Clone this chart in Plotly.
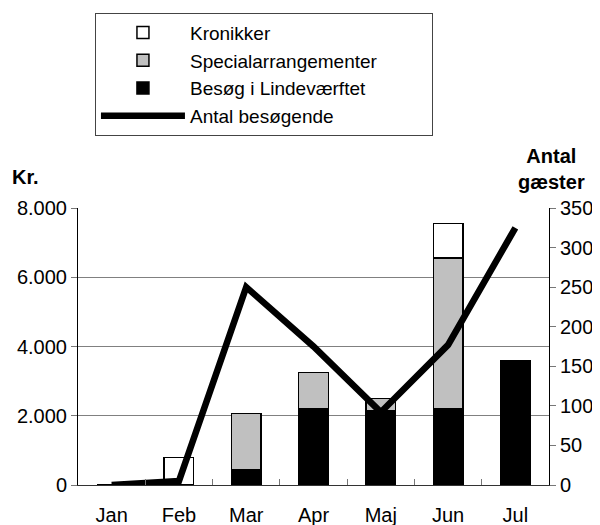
import plotly.graph_objects as go

months = ["Jan", "Feb", "Mar", "Apr", "Maj", "Jun", "Jul"]
besoeg = [0, 0, 450, 2200, 2150, 2200, 3600]
special = [0, 0, 1620, 1050, 350, 4350, 0]
kronikker = [0, 800, 0, 0, 0, 1000, 0]
besoegende = [0, 5, 250, 175, 92, 177, 325]

FONT = "Liberation Sans, Arial, sans-serif"
bar_line = dict(color="black", width=1.5)

fig = go.Figure()
fig.add_trace(go.Bar(x=months, y=besoeg, name="Besøg i Lindeværftet",
                     marker=dict(color="black", line=bar_line), legendrank=3))
fig.add_trace(go.Bar(x=months, y=special, name="Specialarrangementer",
                     marker=dict(color="#C0C0C0", line=bar_line), legendrank=2))
fig.add_trace(go.Bar(x=months, y=kronikker, name="Kronikker",
                     marker=dict(color="white", line=bar_line), legendrank=1))
fig.add_trace(go.Scatter(x=months, y=besoegende, name="Antal besøgende", yaxis="y2",
                         mode="lines", line=dict(color="black", width=6.5), legendrank=4))

fig.update_layout(
    width=592, height=517,
    margin=dict(l=70, r=51, t=200, b=40, autoexpand=False),
    paper_bgcolor="white", plot_bgcolor="white",
    barmode="stack", bargap=0.56,
    separators=",.",
    font=dict(family=FONT, size=20, color="black"),
    showlegend=True,
    legend=dict(orientation="h", x=0.036, y=1.705, xanchor="left", yanchor="top",
                bordercolor="#444", borderwidth=1, bgcolor="white",
                font=dict(size=19), traceorder="normal", itemwidth=84,
                tracegroupgap=0, entrywidth=237, entrywidthmode="pixels"),
    xaxis=dict(type="category", showline=True, linecolor="#333", linewidth=1,
               ticks="inside", tickson="boundaries", ticklen=6, tickcolor="#777",
               tickfont=dict(size=20), showgrid=False, zeroline=False,
               ticklabelstandoff=12, automargin=False),
    yaxis=dict(range=[0, 8000], dtick=2000, tickformat=",", showline=True,
               linecolor="black", linewidth=1, ticks="outside", ticklen=6,
               tickcolor="#777", showgrid=True, gridcolor="#808080", gridwidth=1,
               zeroline=False, automargin=False),
    yaxis2=dict(range=[0, 350], dtick=50, overlaying="y", side="right",
                showline=True, linecolor="black", linewidth=1, ticks="outside",
                ticklen=6, tickcolor="#777", showgrid=False, zeroline=False,
                automargin=False),
    annotations=[
        dict(text="<b>Kr.</b>", xref="paper", yref="paper", x=-0.1444, y=1.112,
             xanchor="left", yanchor="middle", showarrow=False, font=dict(size=20)),
        dict(text="<b>Antal<br>gæster</b>", xref="paper", yref="paper", x=1.006, y=1.141,
             xanchor="center", yanchor="middle", align="center", showarrow=False,
             font=dict(size=20)),
    ],
)

fig.write_html("out.html")
